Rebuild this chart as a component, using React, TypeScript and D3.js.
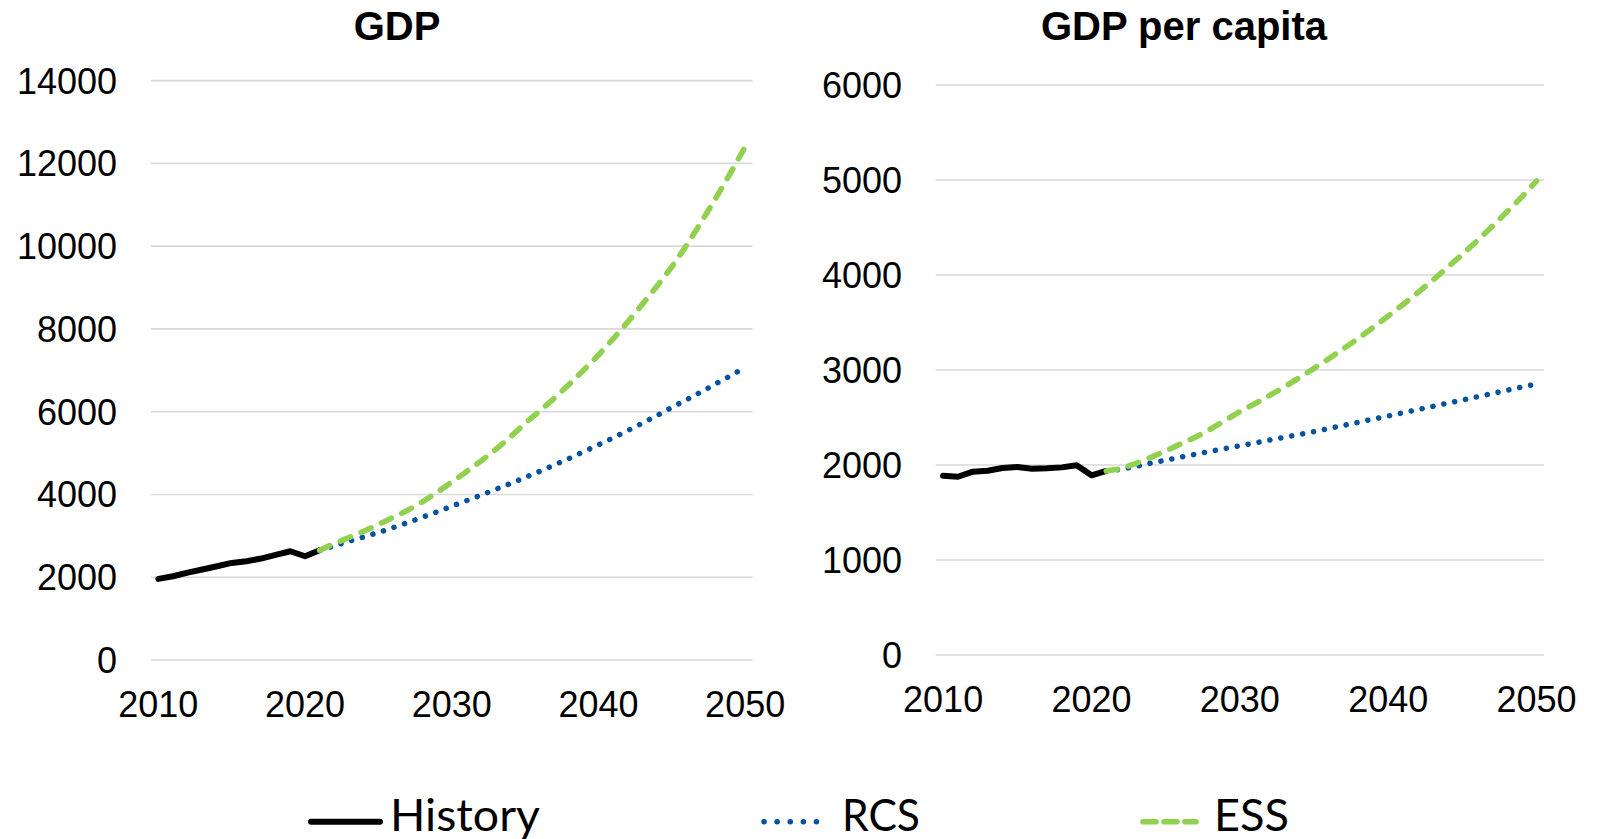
import React from "react";
import * as d3 from "d3";

const years: number[] = d3.range(2010, 2051);
const histYears: number[] = d3.range(2010, 2022);
const projYears: number[] = d3.range(2021, 2051);
const xTickLabels: number[] = [2010, 2020, 2030, 2040, 2050];

const gdpTicks: number[] = [0, 2000, 4000, 6000, 8000, 10000, 12000, 14000];
const pcTicks: number[] = [0, 1000, 2000, 3000, 4000, 5000, 6000];

const gdpHistory: number[] = [1960, 2024, 2113, 2186, 2266, 2346, 2387, 2452, 2540, 2629, 2508, 2653];
const gdpRCS: number[] = [
  2653, 2760, 2870, 2975, 3080, 3200, 3320, 3450, 3580, 3717,
  3850, 3985, 4125, 4265, 4411, 4560, 4715, 4870, 5035, 5200,
  5370, 5545, 5725, 5910, 6104, 6290, 6480, 6675, 6870, 7070,
];
const gdpESS: number[] = [
  2653, 2815, 2960, 3112, 3274, 3444, 3620, 3821, 4050, 4300,
  4550, 4810, 5090, 5390, 5720, 6020, 6330, 6660, 7010, 7370,
  7760, 8170, 8600, 9040, 9500, 10020, 10580, 11160, 11770, 12400,
];

const pcHistory: number[] = [1887, 1876, 1930, 1940, 1968, 1979, 1961, 1965, 1975, 1997, 1891, 1937];
const pcRCS: number[] = [
  1937, 1955, 1985, 2020, 2050, 2083, 2113, 2143, 2173, 2203,
  2232, 2262, 2292, 2321, 2351, 2384, 2417, 2450, 2483, 2516,
  2550, 2583, 2617, 2650, 2684, 2718, 2752, 2786, 2820, 2853,
];
const pcESS: number[] = [
  1937, 1961, 2018, 2081, 2147, 2221, 2292, 2376, 2470, 2561,
  2645, 2732, 2822, 2918, 3018, 3120, 3225, 3335, 3450, 3568,
  3690, 3815, 3945, 4080, 4218, 4360, 4510, 4665, 4820, 4990,
];

const COLORS = { history: "#000000", rcs: "#0452A0", ess: "#92D050", grid: "#D9D9D9" };
const AX_FONT = "'Liberation Sans', Arial, sans-serif";
const LEG_FONT = "Lato, 'Open Sans', sans-serif";

type PanelProps = {
  title: string;
  x0: number; x1: number; yTop: number; yBottom: number;
  yMax: number; ticks: number[];
  hist: number[]; rcs: number[]; ess: number[];
  labelRight: number; xLabelBaseline: number; titleX: number;
};

function Panel(p: PanelProps) {
  const x = d3.scalePoint<number>().domain(years).range([p.x0, p.x1]).padding(0.5);
  const y = d3.scaleLinear().domain([0, p.yMax]).range([p.yBottom, p.yTop]);
  const line = d3.line<[number, number]>().x((d) => x(d[0]) as number).y((d) => y(d[1]));
  const histPts = histYears.map((yr, i) => [yr, p.hist[i]] as [number, number]);
  const rcsPts = projYears.map((yr, i) => [yr, p.rcs[i]] as [number, number]);
  const essPts = projYears.map((yr, i) => [yr, p.ess[i]] as [number, number]);
  return (
    <g>
      <text x={p.titleX} y={40} textAnchor="middle" fontFamily={AX_FONT} fontWeight="bold" fontSize={40}>{p.title}</text>
      {p.ticks.map((t) => (
        <g key={t}>
          <line x1={p.x0} x2={p.x1} y1={y(t)} y2={y(t)} stroke={COLORS.grid} strokeWidth={1.7} />
          <text x={p.labelRight} y={y(t)} dy="0.36em" textAnchor="end" fontFamily={AX_FONT} fontSize={36}>{t}</text>
        </g>
      ))}
      {xTickLabels.map((yr) => (
        <text key={yr} x={x(yr) as number} y={p.xLabelBaseline} textAnchor="middle" fontFamily={AX_FONT} fontSize={36}>{yr}</text>
      ))}
      <path d={line(histPts) || ""} fill="none" stroke={COLORS.history} strokeWidth={6} strokeLinejoin="round" strokeLinecap="round" />
      <path d={line(rcsPts) || ""} fill="none" stroke={COLORS.rcs} strokeWidth={5.5} strokeDasharray="0.1 11" strokeLinecap="round" />
      <path d={line(essPts) || ""} fill="none" stroke={COLORS.ess} strokeWidth={5.6} strokeDasharray="11 11.5" strokeLinecap="round" strokeLinejoin="round" />
    </g>
  );
}

export default function App() {
  const legY = 821.7;
  return (
    <svg width={1603} height={839} style={{ position: "absolute", left: 0, top: 0, background: "#fff" }}>
      <rect width={1603} height={839} fill="#fff" />
      <Panel title="GDP" x0={151} x1={752.5} yTop={80.7} yBottom={660} yMax={14000} ticks={gdpTicks}
        hist={gdpHistory} rcs={gdpRCS} ess={gdpESS} labelRight={117} xLabelBaseline={716.5} titleX={397} />
      <Panel title="GDP per capita" x0={935.7} x1={1544} yTop={85} yBottom={655} yMax={6000} ticks={pcTicks}
        hist={pcHistory} rcs={pcRCS} ess={pcESS} labelRight={902} xLabelBaseline={711.5} titleX={1184} />
      <g>
        <line x1={311} x2={380} y1={legY} y2={legY} stroke={COLORS.history} strokeWidth={6} strokeLinecap="round" />
        <text x={390} y={830.5} fontFamily={LEG_FONT} fontSize={44} textLength={150} lengthAdjust="spacingAndGlyphs">History</text>
        <line x1={764} x2={829} y1={legY} y2={legY} stroke={COLORS.rcs} strokeWidth={5.5} strokeDasharray="0.1 13" strokeLinecap="round" />
        <text x={842} y={830.5} fontFamily={LEG_FONT} fontSize={44} textLength={78} lengthAdjust="spacingAndGlyphs">RCS</text>
        <line x1={1143} x2={1196} y1={legY} y2={legY} stroke={COLORS.ess} strokeWidth={5.6} strokeDasharray="13 8" strokeLinecap="round" />
        <text x={1214} y={830.5} fontFamily={LEG_FONT} fontSize={44} textLength={75} lengthAdjust="spacingAndGlyphs">ESS</text>
      </g>
    </svg>
  );
}
